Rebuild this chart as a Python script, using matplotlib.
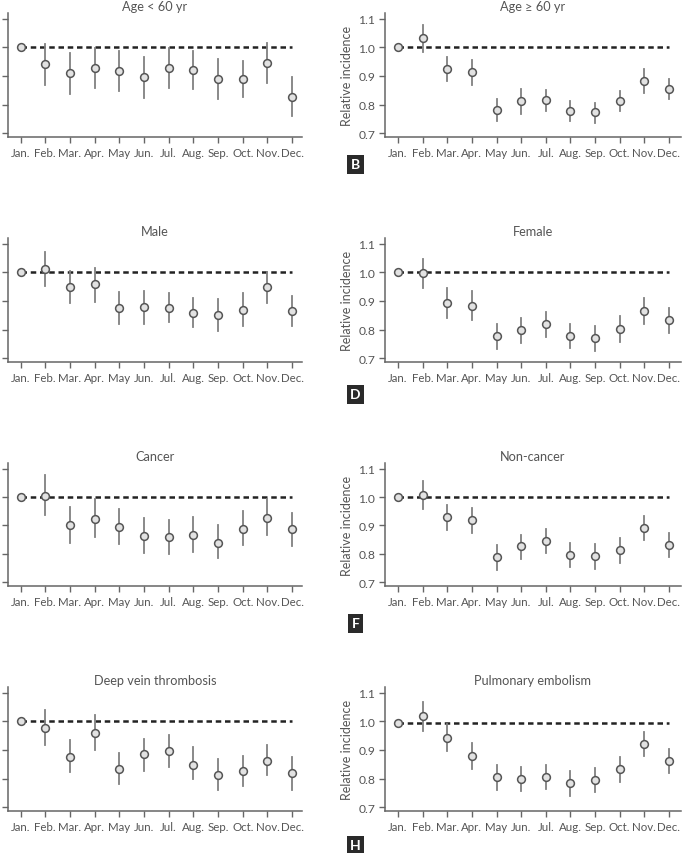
import matplotlib
matplotlib.use('Agg')
import matplotlib.pyplot as plt

plt.rcParams['font.family'] = ['Lato', 'DejaVu Sans']

months = ['Jan.', 'Feb.', 'Mar.', 'Apr.', 'May', 'Jun.', 'Jul.', 'Aug.', 'Sep.', 'Oct.', 'Nov.', 'Dec.']
titles = ['Age < 60 yr', 'Age \u2265 60 yr', 'Male', 'Female',
          'Cancer', 'Non-cancer', 'Deep vein thrombosis', 'Pulmonary embolism']
panel_letters = ['B', 'D', 'F', 'H']

# relative incidence and 95% CI per month (Jan = reference)
age_lt60 = [1.0, 0.942, 0.909, 0.927, 0.917, 0.895, 0.929, 0.920, 0.891, 0.891, 0.945, 0.828]
age_lt60_lo = [1.0, 0.870, 0.836, 0.858, 0.846, 0.823, 0.858, 0.853, 0.820, 0.828, 0.874, 0.760]
age_lt60_hi = [1.0, 1.014, 0.979, 0.999, 0.988, 0.967, 0.999, 0.988, 0.961, 0.954, 1.016, 0.897]

age_ge60 = [1.0, 1.032, 0.926, 0.914, 0.781, 0.811, 0.816, 0.777, 0.772, 0.813, 0.883, 0.855]
age_ge60_lo = [1.0, 0.985, 0.882, 0.870, 0.743, 0.768, 0.778, 0.741, 0.736, 0.778, 0.839, 0.818]
age_ge60_hi = [1.0, 1.078, 0.968, 0.957, 0.819, 0.854, 0.852, 0.813, 0.807, 0.849, 0.926, 0.891]

male = [1.0, 1.012, 0.949, 0.958, 0.875, 0.878, 0.875, 0.859, 0.851, 0.869, 0.948, 0.866]
male_lo = [1.0, 0.953, 0.892, 0.898, 0.821, 0.821, 0.825, 0.808, 0.793, 0.812, 0.892, 0.814]
male_hi = [1.0, 1.071, 1.004, 1.016, 0.931, 0.934, 0.927, 0.911, 0.907, 0.927, 1.001, 0.918]

female = [1.0, 0.998, 0.894, 0.884, 0.776, 0.797, 0.818, 0.778, 0.770, 0.802, 0.865, 0.832]
female_lo = [1.0, 0.946, 0.842, 0.833, 0.730, 0.754, 0.775, 0.734, 0.726, 0.756, 0.820, 0.786]
female_hi = [1.0, 1.048, 0.945, 0.936, 0.819, 0.841, 0.862, 0.821, 0.814, 0.846, 0.909, 0.876]

cancer = [1.0, 1.004, 0.901, 0.922, 0.894, 0.864, 0.861, 0.865, 0.839, 0.889, 0.927, 0.886]
cancer_lo = [1.0, 0.938, 0.839, 0.861, 0.834, 0.804, 0.800, 0.808, 0.785, 0.831, 0.866, 0.827]
cancer_hi = [1.0, 1.078, 0.966, 0.994, 0.960, 0.927, 0.919, 0.931, 0.902, 0.953, 0.994, 0.944]

noncancer = [1.0, 1.007, 0.930, 0.919, 0.787, 0.826, 0.844, 0.795, 0.791, 0.812, 0.891, 0.830]
noncancer_lo = [1.0, 0.957, 0.885, 0.875, 0.742, 0.782, 0.801, 0.752, 0.747, 0.768, 0.848, 0.787]
noncancer_hi = [1.0, 1.057, 0.974, 0.963, 0.832, 0.868, 0.887, 0.837, 0.833, 0.854, 0.933, 0.873]

dvt = [1.0, 0.978, 0.877, 0.959, 0.832, 0.885, 0.896, 0.849, 0.811, 0.826, 0.863, 0.819]
dvt_lo = [1.0, 0.918, 0.823, 0.899, 0.782, 0.827, 0.842, 0.800, 0.761, 0.772, 0.812, 0.761]
dvt_hi = [1.0, 1.041, 0.935, 1.023, 0.888, 0.937, 0.954, 0.910, 0.869, 0.880, 0.919, 0.877]

pe = [0.994, 1.018, 0.943, 0.880, 0.804, 0.798, 0.805, 0.783, 0.793, 0.833, 0.922, 0.863]
pe_lo = [0.994, 0.968, 0.897, 0.835, 0.758, 0.755, 0.762, 0.740, 0.752, 0.789, 0.879, 0.820]
pe_hi = [0.994, 1.068, 0.991, 0.924, 0.848, 0.841, 0.849, 0.826, 0.837, 0.877, 0.964, 0.905]

yticks = [0.7, 0.8, 0.9, 1.0, 1.1]

TEXT = '#555555'
W, H = 684, 854


def draw_panel(ax, title, est, lo, hi, right):
    x = range(len(months))
    ax.hlines(est[0], 0, len(months) - 1, colors='#222222', lw=1.8,
              linestyles=(0, (2.2, 1.5)), zorder=1)
    for i in x:
        ax.plot([i, i], [lo[i], hi[i]], color='#808080', lw=1.3, zorder=2)
    ax.plot(list(x), est, 'o', ms=5.6, mfc='#e2e2e2', mec='#555555', mew=1.1, zorder=3)

    ax.set_ylim(0.686, 1.121)
    ax.set_yticks(yticks)
    if right:
        ax.set_xlim(-0.53, 11.49)
        ax.set_ylabel('Relative incidence', color=TEXT, fontsize=9, labelpad=4)
        ax.set_yticklabels(['%.1f' % v for v in yticks])
    else:
        # left column is cropped in the original: only tick marks remain
        ax.set_xlim(-0.51, 11.4)
        ax.set_yticklabels([])
    ax.set_xticks(list(x))
    ax.set_xticklabels(months)
    ax.tick_params(colors='#666666', labelcolor=TEXT, labelsize=8.3, length=4, width=1, pad=3)
    ax.tick_params(axis='y', labelsize=8.7)
    ax.set_title(title, color=TEXT, fontsize=9.2, pad=2.5)
    for s in ['top', 'right']:
        ax.spines[s].set_visible(False)
    for s in ['left', 'bottom']:
        ax.spines[s].set_color('#666666')
        ax.spines[s].set_linewidth(1.1)


def main():
    fig = plt.figure(figsize=(W / 100, H / 100), dpi=100)

    panels = [
        (age_lt60, age_lt60_lo, age_lt60_hi),
        (age_ge60, age_ge60_lo, age_ge60_hi),
        (male, male_lo, male_hi),
        (female, female_lo, female_hi),
        (cancer, cancer_lo, cancer_hi),
        (noncancer, noncancer_lo, noncancer_hi),
        (dvt, dvt_lo, dvt_hi),
        (pe, pe_lo, pe_hi),
    ]

    # pixel positions of the axes (top spine, bottom spine)
    rows = [(14, 138), (239, 363), (464, 587), (688, 812)]
    cols = [(8, 302), (385, 681)]
    letter_y = [157, 387, 616, 838]

    for k, (est, lo, hi) in enumerate(panels):
        r, c = divmod(k, 2)
        top, bot = rows[r]
        x0, x1 = cols[c]
        ax = fig.add_axes([x0 / W, 1 - bot / H, (x1 - x0) / W, (bot - top) / H])
        draw_panel(ax, titles[k], est, lo, hi, right=(c == 1))

    # panel letters (boxes)
    for r, yl in enumerate(letter_y):
        fig.text(346 / W + 9.5 / W, 1 - (yl + 8.5) / H, panel_letters[r],
                 color='white', fontsize=10, fontweight='bold', ha='center', va='center',
                 bbox=dict(boxstyle='square,pad=0.25', fc='#2a2a2a', ec='none'))

    fig.savefig('out.png', dpi=100)


if __name__ == '__main__':
    main()
